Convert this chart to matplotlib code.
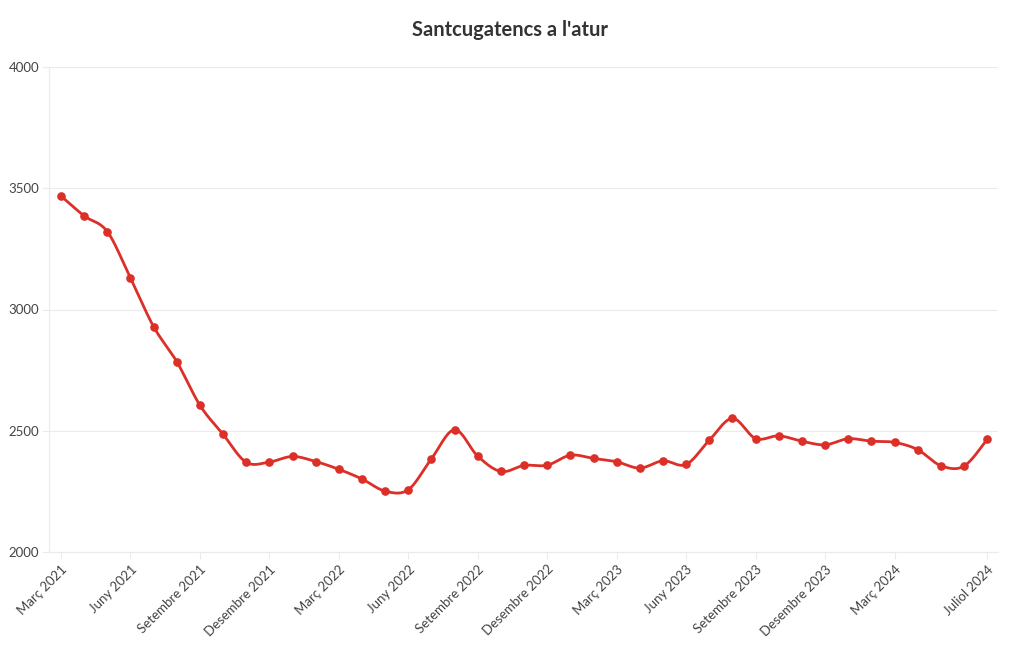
import numpy as np
import matplotlib
matplotlib.use("Agg")
import matplotlib.pyplot as plt

months = ["Març 2021", "Abril 2021", "Maig 2021", "Juny 2021", "Juliol 2021", "Agost 2021",
          "Setembre 2021", "Octubre 2021", "Novembre 2021", "Desembre 2021",
          "Gener 2022", "Febrer 2022", "Març 2022", "Abril 2022", "Maig 2022", "Juny 2022",
          "Juliol 2022", "Agost 2022", "Setembre 2022", "Octubre 2022", "Novembre 2022", "Desembre 2022",
          "Gener 2023", "Febrer 2023", "Març 2023", "Abril 2023", "Maig 2023", "Juny 2023",
          "Juliol 2023", "Agost 2023", "Setembre 2023", "Octubre 2023", "Novembre 2023", "Desembre 2023",
          "Gener 2024", "Febrer 2024", "Març 2024", "Abril 2024", "Maig 2024", "Juny 2024", "Juliol 2024"]
aturats = [3468, 3386, 3321, 3129, 2929, 2785, 2605, 2485, 2370, 2371,
           2394, 2373, 2341, 2301, 2251, 2257, 2385, 2504, 2395, 2332, 2357, 2358,
           2399, 2386, 2372, 2346, 2376, 2361, 2461, 2551, 2468, 2479, 2457, 2442,
           2467, 2457, 2452, 2422, 2356, 2354, 2464]
tick_labels = ["Març 2021", "Juny 2021", "Setembre 2021", "Desembre 2021", "Març 2022", "Juny 2022",
               "Setembre 2022", "Desembre 2022", "Març 2023", "Juny 2023", "Setembre 2023",
               "Desembre 2023", "Març 2024", "Juliol 2024"]
title = "Santcugatencs a l'atur"

plt.rcParams['font.family'] = ['Lato', 'DejaVu Sans']

x = np.arange(len(aturats), dtype=float)
y = np.array(aturats, dtype=float)

# smooth rendering of the line (cardinal spline through the data points)
def cardinal(xs, ys, n=20, t=0.5):
    px = np.concatenate([[xs[0]], xs, [xs[-1]]])
    py = np.concatenate([[ys[0]], ys, [ys[-1]]])
    outx, outy = [], []
    for i in range(1, len(px) - 2):
        p0, p1, p2, p3 = (px[i-1], py[i-1]), (px[i], py[i]), (px[i+1], py[i+1]), (px[i+2], py[i+2])
        m1 = ((p2[0]-p0[0])*t, (p2[1]-p0[1])*t)
        m2 = ((p3[0]-p1[0])*t, (p3[1]-p1[1])*t)
        s = np.linspace(0, 1, n, endpoint=False)
        h00 = 2*s**3 - 3*s**2 + 1
        h10 = s**3 - 2*s**2 + s
        h01 = -2*s**3 + 3*s**2
        h11 = s**3 - s**2
        outx.append(h00*p1[0] + h10*m1[0] + h01*p2[0] + h11*m2[0])
        outy.append(h00*p1[1] + h10*m1[1] + h01*p2[1] + h11*m2[1])
    outx.append([xs[-1]]); outy.append([ys[-1]])
    return np.concatenate(outx), np.concatenate(outy)

sx, sy = cardinal(x, y)

fig = plt.figure(figsize=(10.2, 6.5), dpi=100)
ax = fig.add_axes([49/1020, 98/650, (998-49)/1020, (552-67)/650])

color = "#dc2f28"
ax.plot(sx, sy, color=color, lw=2.0, solid_capstyle='round', zorder=3)
ax.plot(x, y, 'o', color=color, ms=5.2, zorder=4)

ax.set_xlim(-0.52, 40.47)
ax.set_ylim(2000, 4000)
ax.set_yticks([2000, 2500, 3000, 3500, 4000])
ax.grid(axis='y', color='#ebebeb', lw=0.8)
ax.set_axisbelow(True)

tick_pos = [months.index(l) for l in tick_labels]
ax.set_xticks(tick_pos)
ax.set_xticklabels(tick_labels, rotation=45, ha='right', va='top', rotation_mode='anchor')

for s in ['top', 'right']:
    ax.spines[s].set_visible(False)
ax.spines['left'].set_color('#ebebeb')
ax.spines['bottom'].set_color('#ebebeb')
ax.spines['left'].set_linewidth(0.8)
ax.spines['bottom'].set_linewidth(0.8)

ax.tick_params(axis='both', colors='#ebebeb', labelcolor='#444444', labelsize=9.5, length=5, width=0.8)
ax.tick_params(axis='x', pad=3)
ax.tick_params(axis='y', pad=2)

fig.text(510/1020, 1 - 30/650, title, ha='center', va='center', fontsize=14.5, fontweight='bold', color='#333333')

fig.savefig("out.png", dpi=100)
